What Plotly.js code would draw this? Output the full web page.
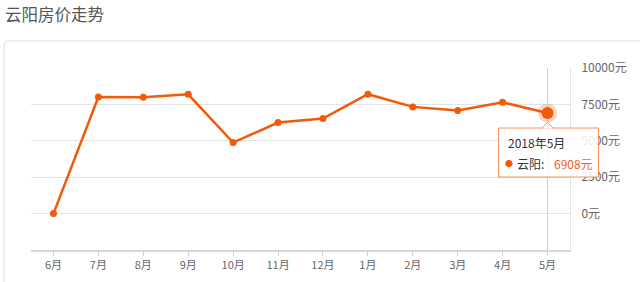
<!DOCTYPE html>
<html>
<head>
<meta charset="utf-8">
<script src="https://cdn.plot.ly/plotly-3.0.1.min.js"></script>
<style>
html,body{margin:0;padding:0;background:#fff;}
#chart{width:640px;height:282px;}
</style>
</head>
<body>
<div id="chart"></div>
<script>
// ---- data ----
const months = ['6月','7月','8月','9月','10月','11月','12月','1月','2月','3月','4月','5月'];
const prices = [0, 8010, 7990, 8190, 4880, 6250, 6530, 8200, 7330, 7080, 7640, 6908];
const yTicks = [0, 2500, 5000, 7500, 10000];
const seriesName = '云阳';
const chartTitle = '云阳房价走势';
const hoverLabel = '2018年5月';
const unit = '元';

const ORANGE = '#f05a0a';
const FONT = '"Noto Sans CJK SC", "Noto Sans", sans-serif';
const Y_RANGE = [-2500, 10000];
const last = prices.length - 1;
const hx = months[last], hy = prices[last];
// anchor of the hovered point in paper units (category axis range [-0.5, n-0.5])
const hxPaper = (last + 0.5) / months.length;
const hyPaper = (hy - Y_RANGE[0]) / (Y_RANGE[1] - Y_RANGE[0]);

const traces = [
  {
    x: months, y: prices, type: 'scatter', mode: 'lines+markers',
    line: {color: ORANGE, width: 2.5},
    marker: {color: ORANGE, size: 7},
    hoverinfo: 'skip', showlegend: false
  },
  {
    x: [hx], y: [hy], type: 'scatter', mode: 'markers',
    marker: {color: 'rgba(240,90,10,0.25)', size: 19},
    hoverinfo: 'skip', showlegend: false
  },
  {
    x: [hx], y: [hy], type: 'scatter', mode: 'markers',
    marker: {color: ORANGE, size: 12},
    hoverinfo: 'skip', showlegend: false
  }
];

// card border (paper coords)
const L = 31, R = 570, T = 68, B = 250;
const px = v => (v - L) / (R - L);
const py = v => (B - v) / (B - T);
const cx0 = px(4), cx1 = px(700), cyt = py(41), cyb = py(320);
const rdx = 4 / (R - L), rdy = 4 / (B - T);
const cardPath = `M ${cx0},${cyb} L ${cx0},${cyt - rdy} Q ${cx0},${cyt} ${cx0 + rdx},${cyt} L ${cx1},${cyt}`;

const TIP_LINE = 'rgba(240,130,60,0.85)';
const shapes = [
  {type: 'path', xref: 'paper', yref: 'paper', path: cardPath,
   line: {color: '#dcdcdc', width: 1}, layer: 'below'},
  {type: 'line', xref: 'x', yref: 'paper', x0: hx, x1: hx, y0: 0, y1: 1,
   line: {color: '#cccccc', width: 1}, layer: 'below'},
  // tooltip box
  {type: 'rect', xref: 'paper', yref: 'paper', xsizemode: 'pixel', ysizemode: 'pixel',
   xanchor: hxPaper, yanchor: hyPaper, x0: -49, x1: 51, y0: -15, y1: -64,
   fillcolor: 'rgba(255,255,255,0.88)', line: {color: TIP_LINE, width: 1}, layer: 'above'},
  // caret
  {type: 'path', xref: 'paper', yref: 'paper', xsizemode: 'pixel', ysizemode: 'pixel',
   xanchor: hxPaper, yanchor: hyPaper, path: 'M -6,-15.6 L 0,-9.5 L 6,-15.6',
   fillcolor: 'rgb(255,255,255)', line: {color: TIP_LINE, width: 1}, layer: 'above'}
];

const annotations = [
  {xref: 'x', yref: 'y', x: hx, y: hy, xshift: -42, yshift: -29,
   xanchor: 'left', yanchor: 'middle', showarrow: false,
   text: hoverLabel, font: {family: FONT, size: 12, color: '#333'}},
  {xref: 'x', yref: 'y', x: hx, y: hy, xshift: -39, yshift: -50,
   xanchor: 'center', yanchor: 'middle', showarrow: false,
   text: '●', font: {family: FONT, size: 8, color: ORANGE}},
  {xref: 'x', yref: 'y', x: hx, y: hy, xshift: -33, yshift: -50,
   xanchor: 'left', yanchor: 'middle', showarrow: false,
   text: seriesName + ':', font: {family: FONT, size: 12, color: '#333'}},
  {xref: 'x', yref: 'y', x: hx, y: hy, xshift: 4, yshift: -50,
   xanchor: 'left', yanchor: 'middle', showarrow: false,
   text: hy + unit, font: {family: FONT, size: 12, color: '#f0642d'}}
];

const layout = {
  width: 640, height: 282,
  margin: {l: L, r: 640 - R, t: T, b: 282 - B, pad: 0},
  paper_bgcolor: '#fff', plot_bgcolor: 'rgba(0,0,0,0)',
  font: {family: FONT, color: '#666'},
  title: {text: chartTitle, xref: 'container', yref: 'container', x: 5/640, xanchor: 'left',
          y: 1 - 15/282, yanchor: 'middle', font: {family: FONT, size: 16.5, color: '#555'}},
  xaxis: {
    type: 'category', range: [-0.5, months.length - 0.5], fixedrange: true,
    showgrid: false, showline: true, linecolor: '#d8d8d8', linewidth: 2,
    ticks: 'outside', ticklen: 4, tickcolor: '#d0d0d0', tickwidth: 1,
    tickfont: {family: FONT, size: 11, color: '#666'}
  },
  yaxis: {
    side: 'right', range: Y_RANGE, fixedrange: true,
    tickvals: yTicks, ticktext: yTicks.map(v => v + unit),
    showgrid: true, gridcolor: '#e3e3e3', gridwidth: 1, zeroline: false,
    showline: true, linecolor: '#e3e3e3', linewidth: 1,
    ticks: '', ticklabelstandoff: 8,
    tickfont: {family: FONT, size: 12, color: '#666'}
  },
  shapes: shapes,
  annotations: annotations,
  showlegend: false
};

Plotly.newPlot('chart', traces, layout, {displayModeBar: false, staticPlot: true});
</script>
</body>
</html>
